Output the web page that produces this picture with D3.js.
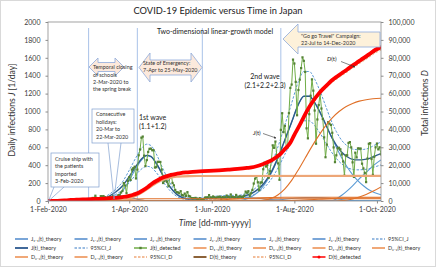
<!DOCTYPE html>
<html><head><meta charset="utf-8">
<script src="https://cdn.jsdelivr.net/npm/d3@7"></script>
<style>body{margin:0;background:#fff} svg{display:block;font-family:Lato,'Open Sans',sans-serif}</style>
</head><body><svg id="c" width="436" height="267"></svg>
<script>
// ---------- data ----------
const startDate = new Date(2020, 1, 1);
const endDate = new Date(2020, 9, 4);
const xTickDates = [new Date(2020,1,1), new Date(2020,3,1), new Date(2020,5,1), new Date(2020,7,1), new Date(2020,9,1)];
const yLeftTicks = [0,200,400,600,800,1000,1200,1400,1600,1800,2000];
const yRightTicks = [0,10000,20000,30000,40000,50000,60000,70000,80000,90000,100000];

// daily detected infections J(t), per month
const jFeb = [2,0,0,0,0,1,0,0,0,1,0,0,2,8,5,6,6,7,5,9,9,12,7,13,6,14,18,20,8];
const jMar = [12,14,19,22,34,33,59,33,30,26,54,52,55,41,35,15,44,39,40,54,33,41,43,65,65,95,112,200,173,87,225];
const jApr = [266,235,351,367,383,252,351,511,576,708,720,507,390,457,549,583,585,567,568,374,378,438,437,436,350,201,221,284,218,165];
const jMay = [261,301,202,175,123,99,96,86,110,67,61,83,55,99,56,51,32,31,31,35,26,21,32,20,21,14,38,40,40,66,40];
const jJun = [37,51,42,33,41,48,46,25,45,38,41,61,46,41,73,45,42,41,68,36,49,52,40,46,57,105,92,110,58,86];
const jJul = [124,195,250,274,209,120,207,207,355,429,385,402,259,333,452,622,594,664,511,420,237,795,981,769,840,596,598,981,1264,1301,1580];
const jAug = [1536,1331,958,1240,1356,1485,1605,1566,1442,812,700,970,1176,1359,1233,1011,640,911,1072,1198,1033,916,711,489,630,882,864,850,762,599,434];
const jSep = [511,589,595,578,520,442,283,509,511,649,658,599,432,269,540,487,588,586,586,417,364,314,211,474,640,646,470,292,494,600];
const jOct = [642,577,600,521];

// cumulative detected D(t): [day since 1-Feb-2020, value]
const dDetected = [[0,20],[7,100],[14,400],[21,750],[28,950],[35,1150],[42,1350],[49,1700],[56,2250],[60,2900],[63,3500],[67,4600],[70,5900],[74,8000],[77,9800],[81,11600],[84,12800],[88,13900],[91,14600],[95,15200],[98,15600],[102,15950],[105,16150],[112,16500],[119,16850],[126,17150],[133,17500],[140,17900],[147,18450],[152,19000],[156,19800],[161,21300],[165,22700],[168,24200],[172,26500],[175,29000],[179,32500],[182,37000],[186,42500],[189,47000],[193,52500],[196,56000],[200,60000],[203,62500],[207,65500],[210,67600],[214,69800],[217,71400],[221,73500],[224,75200],[228,77200],[231,78800],[235,80800],[238,82400],[242,84500],[246,86000]];

// theory components J (1/day)
const j11 = [[20,0],[32,4],[38,14],[42,26],[46,42],[50,55],[54,58],[58,50],[62,35],[66,20],[70,9],[75,3],[80,0],[246,0]];
const j12 = [[38,0],[45,15],[50,45],[55,110],[60,230],[65,365],[70,475],[73,505],[76,495],[80,420],[85,285],[90,160],[95,75],[100,30],[105,11],[110,3],[118,0],[246,0]];
const j21 = [[95,0],[105,10],[115,25],[125,38],[135,45],[145,42],[155,30],[165,15],[175,5],[185,0],[246,0]];
const j22 = [[138,0],[145,15],[150,45],[155,100],[160,185],[165,310],[170,480],[175,680],[180,880],[185,1080],[189,1170],[193,1170],[197,1100],[201,990],[205,860],[209,730],[213,600],[217,480],[221,380],[225,295],[229,225],[233,170],[237,125],[241,95],[246,70]];
const j23 = [[160,0],[170,12],[180,28],[190,38],[200,38],[210,28],[220,12],[230,0],[246,0]];
const j31 = [[0,0],[205,0],[210,5],[213,24],[217,64],[221,114],[225,170],[229,234],[233,292],[237,348],[241,404],[246,460]];
// total J theory and its 95% CI
const jDays = [0,20,30,35,40,45,50,55,60,65,70,73,76,80,85,90,95,100,105,110,115,120,125,130,135,140,145,150,155,160,165,170,175,180,185,189,193,197,201,205,209,213,217,221,225,229,233,237,241,246];
const jTheory = [0,0,2,9,20,53,100,167,272,389,484,510,498,420,285,160,75,35,21,21,25,32,38,42,45,44,57,81,130,207,325,490,685,882,1080,1170,1170,1100,990,860,730,624,544,494,465,459,462,473,499,530];
const jCIup = [5,6,10,19,33,73,131,213,343,486,603,635,620,525,358,205,100,51,34,34,39,47,55,60,63,62,78,108,168,263,408,611,850,1093,1336,1447,1447,1361,1226,1066,906,776,677,616,580,573,576,590,622,660];
const jCIlo = [0,0,0,2,10,36,72,124,204,295,368,388,378,318,214,118,53,22,11,11,14,20,24,27,30,29,39,57,95,154,245,372,522,674,827,896,896,842,757,657,557,475,414,375,353,348,351,359,379,403];

// theory components D (cumulative)
const d11 = [[0,0],[25,0],[35,60],[40,120],[45,260],[50,500],[55,780],[60,1000],[65,1140],[70,1210],[80,1240],[246,1240]];
const d12 = [[0,0],[40,0],[45,40],[50,180],[55,560],[60,1400],[65,2900],[70,5000],[73,6500],[76,8000],[80,10000],[85,11850],[90,12950],[95,13550],[100,13800],[105,13920],[110,13980],[246,14000]];
const d21 = [[0,0],[95,0],[105,50],[115,230],[125,550],[135,960],[145,1400],[155,1760],[165,1990],[175,2080],[185,2100],[246,2100]];
const d22 = [[0,0],[155,0],[160,500],[165,1500],[170,3500],[175,6800],[180,11500],[185,17500],[190,24000],[195,30500],[200,36500],[205,42000],[210,46500],[215,50000],[220,52700],[225,54500],[230,55800],[235,56600],[240,57100],[246,57400]];
const d23 = [[0,0],[160,0],[180,300],[200,1000],[220,1600],[246,1700]];
const d31 = [[0,0],[210,0],[215,100],[220,450],[225,1150],[230,2200],[235,3600],[240,5400],[246,7900]];

// annotations (dates)
const eventDays = [30, 66, 114, 172];

// ---------- chart ----------
const svg = d3.select('#c');
const L = 48, R = 381, T = 22, B = 201;
const day = d => d3.timeDay.offset(startDate, d);
const x = d3.scaleTime().domain([startDate, endDate]).range([L, R]);
const yL = d3.scaleLinear().domain([0, 2000]).range([B, T]);
const yR = d3.scaleLinear().domain([0, 100000]).range([B, T]);

svg.append('rect').attr('x',0.5).attr('y',0.5).attr('width',435).attr('height',266).attr('fill','#fff').attr('stroke','#d9d9d9');

// title
svg.append('text').attr('x',218).attr('y',14).attr('text-anchor','middle').attr('font-size',9.3).attr('fill','#222').text('COVID-19 Epidemic versus Time in Japan');

// event vertical lines
svg.append('g').selectAll('line').data(eventDays).join('line')
  .attr('x1',d=>x(day(d))).attr('x2',d=>x(day(d))).attr('y1',28).attr('y2',B)
  .attr('stroke','#a9c2e8').attr('stroke-width',1);

const lineL = d3.line().x(d=>x(day(d[0]))).y(d=>yL(d[1])).curve(d3.curveMonotoneX);
const lineR = d3.line().x(d=>x(day(d[0]))).y(d=>yR(d[1])).curve(d3.curveMonotoneX);
const plot = svg.append('g');
svg.append('clipPath').attr('id','pc').append('rect').attr('x',L).attr('y',T).attr('width',R-L).attr('height',B-T);
plot.attr('clip-path','url(#pc)');

const zip = (ds, vs) => ds.map((d,i)=>[d, vs[i]]);

// J components
[j11,j12,j21,j22,j23,j31].forEach(s => plot.append('path').attr('d',lineL(s)).attr('fill','none').attr('stroke','#5b9bd5').attr('stroke-width',1.1));
plot.append('path').attr('d',lineL(zip(jDays,jCIup))).attr('fill','none').attr('stroke','#5b9bd5').attr('stroke-width',1).attr('stroke-dasharray','2.5,1.5');
plot.append('path').attr('d',lineL(zip(jDays,jTheory))).attr('fill','none').attr('stroke','#2e5c8a').attr('stroke-width',1.4);
plot.append('path').attr('d',lineL(zip(jDays,jCIlo))).attr('fill','none').attr('stroke','#5b9bd5').attr('stroke-width',1).attr('stroke-dasharray','2.5,1.5');

// detected J
const jAll = [].concat(jFeb,jMar,jApr,jMay,jJun,jJul,jAug,jSep,jOct).map((v,i)=>[i,v]);
plot.append('path').attr('d',d3.line().x(d=>x(day(d[0]))).y(d=>yL(d[1]))(jAll)).attr('fill','none').attr('stroke','#70ad47').attr('stroke-width',1);
plot.append('g').selectAll('rect').data(jAll).join('rect')
  .attr('x',d=>x(day(d[0]))-1.1).attr('y',d=>yL(d[1])-1.1).attr('width',2.2).attr('height',2.2).attr('fill','#548235');

// D components
[d11,d12,d21,d22,d23,d31].forEach((s,i) => plot.append('path').attr('d',lineR(s)).attr('fill','none')
  .attr('stroke', i===1 ? '#eda677' : '#e07028').attr('stroke-width', i===1 ? 2.2 : 1.1));
const dTh = dDetected.map(d=>[d[0], d[1]*0.99]);
plot.append('path').attr('d',lineR(dDetected.map(d=>[d[0],d[1]*1.01]))).attr('fill','none').attr('stroke','#f4b183').attr('stroke-width',1).attr('stroke-dasharray','2.5,1.5');
plot.append('path').attr('d',lineR(dTh)).attr('fill','none').attr('stroke','#8c6239').attr('stroke-width',1.4);
plot.append('path').attr('d',lineR(dDetected.map(d=>[d[0],d[1]*0.98]))).attr('fill','none').attr('stroke','#f4b183').attr('stroke-width',1).attr('stroke-dasharray','2.5,1.5');
plot.append('path').attr('d',lineR(dDetected)).attr('fill','none').attr('stroke','#ff0000').attr('stroke-width',3.8).attr('stroke-linejoin','round');

// plot frame
svg.append('rect').attr('x',L).attr('y',T).attr('width',R-L).attr('height',B-T).attr('fill','none').attr('stroke','#8c8c8c').attr('stroke-width',0.8);

// axes
const axL = svg.append('g').attr('transform',`translate(${L},0)`).call(d3.axisLeft(yL).tickValues(yLeftTicks).tickSize(2.5).tickSizeOuter(0).tickPadding(5).tickFormat(d3.format('d')));
const axR = svg.append('g').attr('transform',`translate(${R},0)`).call(d3.axisRight(yR).tickValues(yRightTicks).tickSize(2.5).tickSizeOuter(0).tickPadding(5).tickFormat(d3.format(',')));
const axB = svg.append('g').attr('transform',`translate(0,${B})`).call(d3.axisBottom(x).tickValues(xTickDates).tickSize(2.5).tickSizeOuter(0).tickPadding(4).tickFormat(d3.timeFormat('%-d-%b-%Y')));
[axL,axR,axB].forEach(a=>{a.select('.domain').remove(); a.selectAll('line').attr('stroke','#8c8c8c'); a.selectAll('text').attr('font-size',7).attr('fill','#404040').attr('font-family','Lato,sans-serif');});

// axis titles
svg.append('text').attr('transform','translate(15,110) rotate(-90)').attr('text-anchor','middle').attr('font-size',8.6).attr('fill','#333')
  .call(t=>{t.append('tspan').text('Daily infections '); t.append('tspan').attr('font-style','italic').text('J'); t.append('tspan').text(' [1/day]');});
svg.append('text').attr('transform','translate(428,103) rotate(-90)').attr('text-anchor','middle').attr('font-size',8.6).attr('fill','#333')
  .call(t=>{t.append('tspan').text('Total infections '); t.append('tspan').attr('font-style','italic').text('D');});
svg.append('text').attr('x',215).attr('y',226).attr('text-anchor','middle').attr('font-size',8.6).attr('fill','#333')
  .call(t=>{t.append('tspan').attr('font-style','italic').text('Time'); t.append('tspan').text(' [dd-mm-yyyy]');});

// annotations
const fs = 5.4, tc = '#333';
svg.append('text').attr('x',215).attr('y',34).attr('text-anchor','middle').attr('font-size',7).attr('fill','#222').text('Two-dimensional linear-growth model');

const arrowFill = '#fce9dc', arrowStroke = '#8eaadb';
svg.append('path').attr('d','M283,39 L298,24 L298,32 L380,32 L380,47 L298,47 L298,54 Z').attr('fill','#fdf1da').attr('stroke',arrowStroke).attr('stroke-width',0.8);
svg.append('text').attr('x',301).attr('y',37.5).attr('font-size',fs).attr('fill',tc).text('"Go go Travel" Campaign:');
svg.append('text').attr('x',301).attr('y',44.5).attr('font-size',fs).attr('fill',tc).text('22-Jul to 14-Dec-2020');
svg.append('path').attr('d','M139,67.5 L150,53 L150,60 L191,60 L191,53 L202,67.5 L191,82 L191,75 L150,75 L150,82 Z').attr('fill',arrowFill).attr('stroke',arrowStroke).attr('stroke-width',0.8);
svg.append('text').attr('x',143).attr('y',65).attr('font-size',fs).attr('fill',tc).text('State of Emergency:');
svg.append('text').attr('x',143).attr('y',72).attr('font-size',fs).attr('fill',tc).text('7-Apr to 25-May-2020');
svg.append('path').attr('d','M89,67 L98,58 L98,62.5 L115,62.5 L115,58 L124,67 L115,76 L115,71.5 L98,71.5 L98,76 Z').attr('fill',arrowFill).attr('stroke',arrowStroke).attr('stroke-width',0.8);
[['Temporal closing',69],['of schools',76.5],['2-Mar-2020 to',84],['the spring break',91]].forEach(d=>
  svg.append('text').attr('x',93).attr('y',d[1]).attr('font-size',fs).attr('fill',tc).text(d[0]));
svg.append('path').attr('d','M108,143 L114,199 L121,143').attr('fill','none').attr('stroke','#7f9fcf').attr('stroke-width',0.7);
svg.append('rect').attr('x',92).attr('y',109).attr('width',42).attr('height',34).attr('fill','#fff').attr('stroke','#7f9fcf').attr('stroke-width',0.7);
[['Consecutive',116],['holidays:',123.5],['20-Mar to',131],['22-Mar-2020',138.5]].forEach(d=>
  svg.append('text').attr('x',96).attr('y',d[1]).attr('font-size',fs).attr('fill',tc).text(d[0]));
svg.append('path').attr('d','M54,187 L48.5,201 L64,187').attr('fill','none').attr('stroke','#7f9fcf').attr('stroke-width',0.7);
svg.append('rect').attr('x',51).attr('y',153).attr('width',48).attr('height',34).attr('fill','#fff').attr('stroke','#7f9fcf').attr('stroke-width',0.7);
[['Cruise ship with',160.5],['the patients',168],['imported',175.5],['3-Feb-2020',183]].forEach(d=>
  svg.append('text').attr('x',55).attr('y',d[1]).attr('font-size',fs).attr('fill',tc).text(d[0]));
svg.append('text').attr('x',139).attr('y',120).attr('font-size',7).attr('fill','#222').text('1st wave');
svg.append('text').attr('x',139).attr('y',129).attr('font-size',7).attr('fill','#222').text('(1.1+1.2)');
svg.append('text').attr('x',265).attr('y',79).attr('text-anchor','middle').attr('font-size',7).attr('fill','#222').text('2nd wave');
svg.append('text').attr('x',265).attr('y',87.5).attr('text-anchor','middle').attr('font-size',7).attr('fill','#222').text('(2.1+2.2+2.3)');
const defs = svg.append('defs');
defs.append('marker').attr('id','ah').attr('viewBox','0 0 6 6').attr('refX',5).attr('refY',3).attr('markerWidth',4).attr('markerHeight',4).attr('orient','auto')
  .append('path').attr('d','M0,0 L6,3 L0,6 Z').attr('fill','#333');
svg.append('text').attr('x',253).attr('y',135).attr('font-size',6).attr('fill','#222').call(t=>{t.append('tspan').attr('font-style','italic').text('J'); t.append('tspan').text('(t)');});
svg.append('line').attr('x1',263).attr('y1',133.5).attr('x2',276).attr('y2',138).attr('stroke','#333').attr('stroke-width',0.6).attr('marker-end','url(#ah)');
svg.append('text').attr('x',327).attr('y',61).attr('font-size',6).attr('fill','#222').call(t=>{t.append('tspan').attr('font-style','italic').text('D'); t.append('tspan').text('(t)');});
svg.append('line').attr('x1',341).attr('y1',61.5).attr('x2',355).attr('y2',67).attr('stroke','#333').attr('stroke-width',0.6).attr('marker-end','url(#ah)');

// legend
const legendRows = [
  [['J₁₋₁(t)_theory','jc'],['J₁₋₂(t)_theory','jc'],['J₂₋₁(t)_theory','jc'],['J₂₋₂(t)_theory','jc'],['J₂₋₃(t)_theory','jc'],['J₃₋₁(t)_theory','jc'],['95%CI_J','jci']],
  [['J(t)_theory','jt'],['95%CI_J','jci'],['J(t)_detected','jd'],['D₁₋₁(t)_theory','dc'],['D₁₋₂(t)_theory','dc'],['D₂₋₁(t)_theory','dc'],['D₂₋₂(t)_theory','dc']],
  [['D₂₋₃(t)_theory','dc'],['D₃₋₁(t)_theory','dc'],['95%CI_D','dci'],['D(t)_theory','dt'],['95%CI_D','dci'],['D(t)_detected','dd']]
];
const legendStyle = {jc:['#7aa6d8',2,null], jci:['#7aa6d8',1.5,'2.5,1.5'], jt:['#41699a',2,null], jd:['#70ad47',1.5,null],
  dc:['#f0a878',2,null], dci:['#f0a878',1.5,'2.5,1.5'], dt:['#8c6239',2,null], dd:['#ff0000',1.5,null]};
const lg = svg.append('g');
legendRows.forEach((row,ri)=>{
  const cy = 239 + ri*9;
  row.forEach((it,ci)=>{
    const lx = 15 + ci*59.5, st = legendStyle[it[1]];
    lg.append('line').attr('x1',lx).attr('x2',lx+13).attr('y1',cy).attr('y2',cy).attr('stroke',st[0]).attr('stroke-width',st[1]).attr('stroke-dasharray',st[2]);
    if (it[1]==='jd') lg.append('rect').attr('x',lx+5.3).attr('y',cy-1.2).attr('width',2.4).attr('height',2.4).attr('fill','#548235');
    if (it[1]==='dd') lg.append('circle').attr('cx',lx+6.5).attr('cy',cy).attr('r',1.5).attr('fill','#ff0000');
    lg.append('text').attr('x',lx+16).attr('y',cy+2).attr('font-size',5.4).attr('fill','#333').text(it[0]);
  });
});
</script></body></html>
